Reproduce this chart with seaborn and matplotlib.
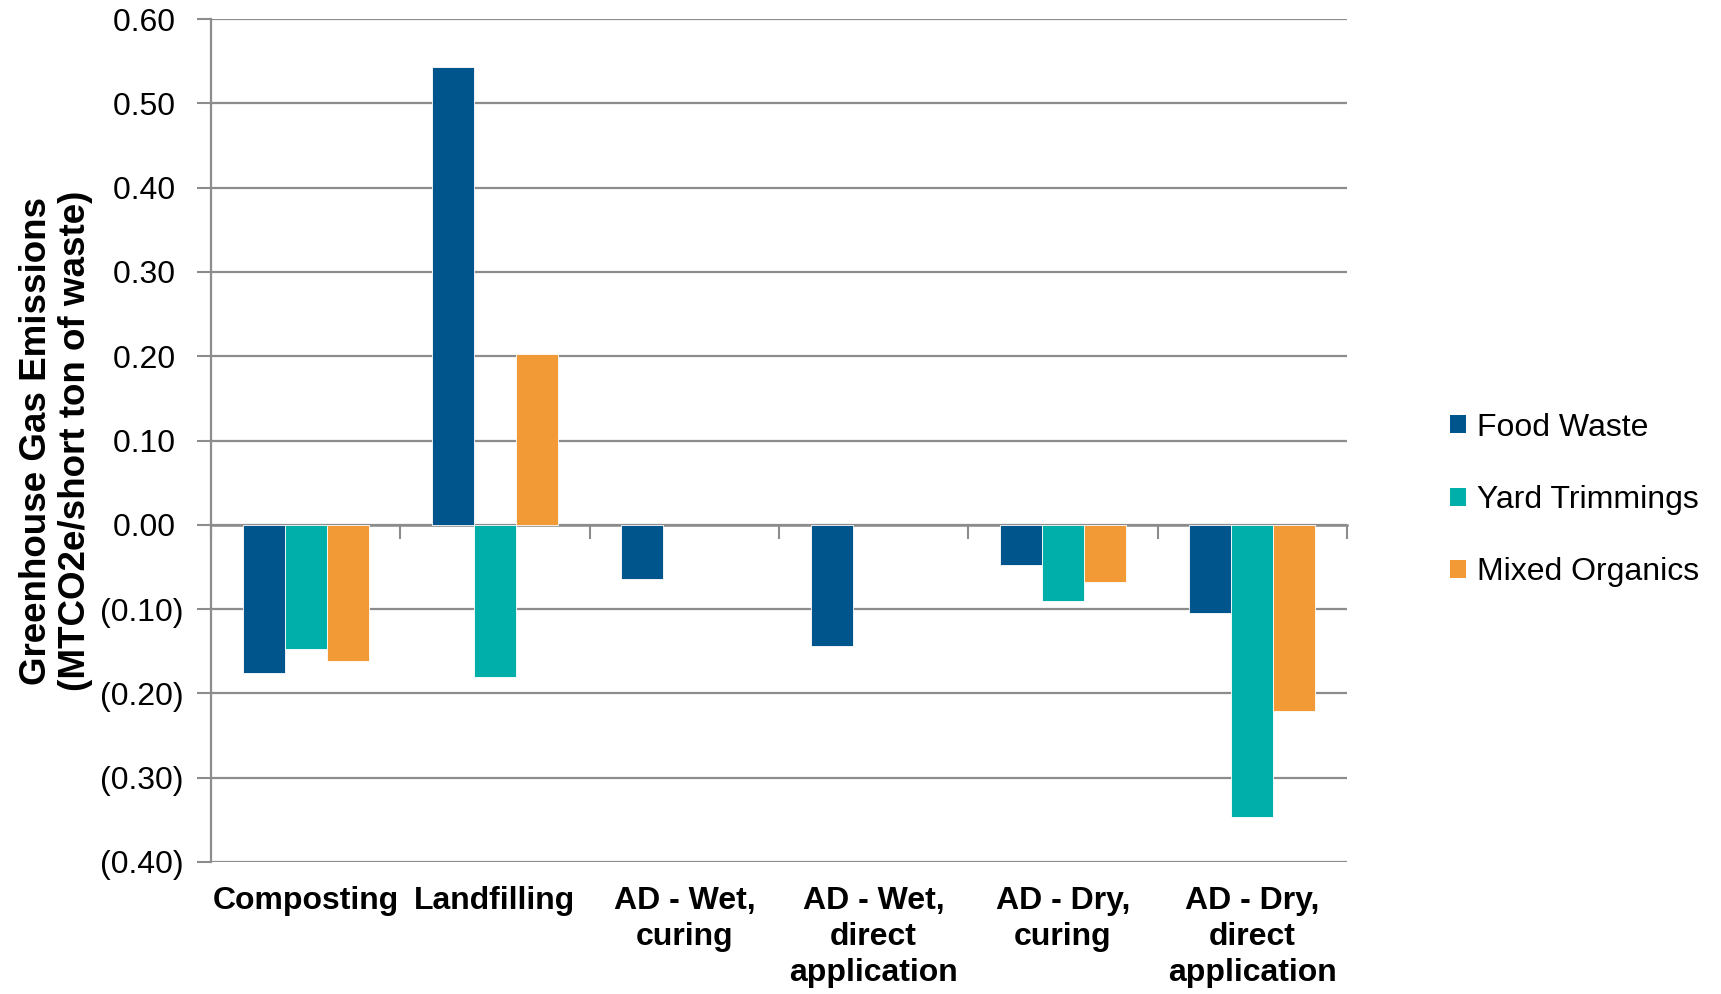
import matplotlib
matplotlib.use("Agg")
import matplotlib.pyplot as plt
import seaborn as sns
import pandas as pd
import numpy as np

categories = ["Composting", "Landfilling", "AD - Wet,\ncuring", "AD - Wet,\ndirect\napplication",
              "AD - Dry,\ncuring", "AD - Dry,\ndirect\napplication"]
series = ["Food Waste", "Yard Trimmings", "Mixed Organics"]
food_waste = [-0.176, 0.543, -0.064, -0.144, -0.048, -0.105]
yard_trimmings = [-0.147, -0.180, np.nan, np.nan, -0.090, -0.347]
mixed_organics = [-0.162, 0.203, np.nan, np.nan, -0.068, -0.221]
ytick_values = [0.6, 0.5, 0.4, 0.3, 0.2, 0.1, 0.0, -0.1, -0.2, -0.3, -0.4]
ytick_labels = ["0.60 ", "0.50 ", "0.40 ", "0.30 ", "0.20 ", "0.10 ", "0.00 ",
                "(0.10)", "(0.20)", "(0.30)", "(0.40)"]
colors = ["#00558C", "#00AFAA", "#F29A36"]

rows = []
for s, vals in zip(series, [food_waste, yard_trimmings, mixed_organics]):
    for c, v in zip(categories, vals):
        if not np.isnan(v):
            rows.append({"category": c, "series": s, "value": v})
df = pd.DataFrame(rows)

sns.set_style("white")
plt.rcParams["font.family"] = ["Liberation Sans", "DejaVu Sans"]
plt.rcParams["text.color"] = "black"
plt.rcParams["axes.labelcolor"] = "black"
plt.rcParams["xtick.color"] = "black"
plt.rcParams["ytick.color"] = "black"

fig = plt.figure(figsize=(17.21, 9.94), dpi=100)
ax = fig.add_axes([211/1721, 1-862/994, (1347-211)/1721, (862-19)/994])

sns.barplot(data=df, x="category", y="value", hue="series", order=categories,
            hue_order=series, palette=colors, width=2/3, gap=0, dodge=True,
            errorbar=None, ax=ax, edgecolor="white", linewidth=0.6, saturation=1)

ax.set_xlim(-0.5, len(categories) - 0.5)
ax.set_ylim(-0.4, 0.6)
ax.set_yticks(ytick_values)
ax.set_yticklabels(ytick_labels, fontsize=23)
ax.yaxis.grid(True, color="#8C8C8C", linewidth=1.6)
ax.set_axisbelow(True)
ax.tick_params(axis="y", which="major", length=10, width=1.5, color="#8C8C8C",
               labelcolor="black", direction="out", pad=9.5, left=True)

ax.set_xticks(range(len(categories)))
ax.set_xticklabels(categories, fontsize=23, fontweight="bold", linespacing=1.27)
ax.tick_params(axis="x", length=0, pad=17, labelcolor="black")
ax.set_xlabel("")
ax.set_ylabel("Greenhouse Gas Emissions\n(MTCO2e/short ton of waste)",
              fontsize=26.5, fontweight="bold", linespacing=1.15, color="black")
ax.yaxis.set_label_coords(-0.104, 0.5)

for side in ["top", "right", "bottom"]:
    ax.spines[side].set_visible(False)
ax.spines["left"].set_color("#8C8C8C")
ax.spines["left"].set_linewidth(1.6)

# zero axis with category-boundary ticks
sec = ax.secondary_xaxis(0.4)
sec.set_xticks(np.arange(-0.5, len(categories), 1.0))
sec.set_xticklabels([])
sec.tick_params(axis="x", length=10, width=1.5, color="#8C8C8C", direction="out")
sec.spines["bottom"].set_color("#8C8C8C")
sec.spines["bottom"].set_linewidth(1.8)

leg = ax.legend(loc="center left", bbox_to_anchor=(1450/1721, 1-500/994),
                bbox_transform=fig.transFigure, frameon=False, fontsize=23,
                handlelength=0.5, handleheight=0.5, handletextpad=0.35,
                labelspacing=1.33, borderpad=0, borderaxespad=0)
for h in leg.legend_handles:
    h.set_edgecolor("none")
for t in leg.get_texts():
    t.set_color("black")

fig.savefig("out.png", dpi=100)
